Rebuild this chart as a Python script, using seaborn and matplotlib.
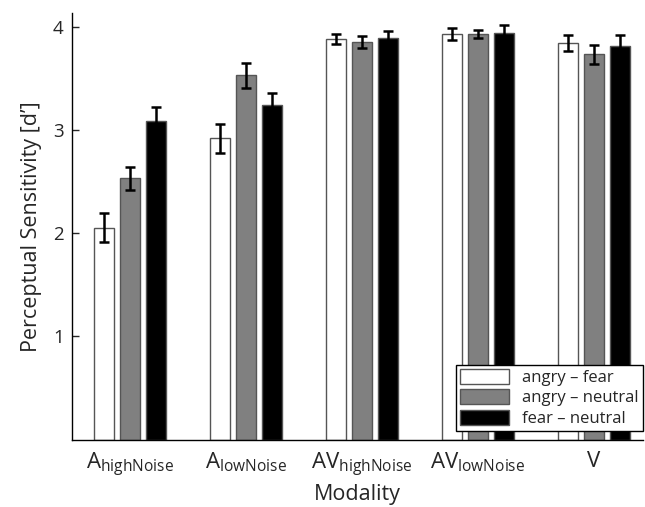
import matplotlib
matplotlib.use("Agg")
import matplotlib.pyplot as plt
import seaborn as sns
import pandas as pd
import numpy as np

modalities = ["A$_{\\mathregular{highNoise}}$", "A$_{\\mathregular{lowNoise}}$",
              "AV$_{\\mathregular{highNoise}}$", "AV$_{\\mathregular{lowNoise}}$", "V"]
contrasts = ["angry \u2013 fear", "angry \u2013 neutral", "fear \u2013 neutral"]
angry_fear = [2.05, 2.92, 3.88, 3.93, 3.84]
angry_neutral = [2.53, 3.53, 3.85, 3.93, 3.73]
fear_neutral = [3.09, 3.24, 3.89, 3.94, 3.81]
err_angry_fear = [0.14, 0.14, 0.05, 0.06, 0.08]
err_angry_neutral = [0.11, 0.12, 0.055, 0.04, 0.09]
err_fear_neutral = [0.13, 0.12, 0.07, 0.08, 0.11]
colors = ["#ffffff", "#808080", "#000000"]

sns.set_theme(style="white")
plt.rcParams['font.family'] = ['Open Sans', 'DejaVu Sans']
plt.rcParams['mathtext.fontset'] = 'custom'
plt.rcParams['mathtext.rm'] = 'Open Sans'

rows = []
for vals, errs, c in [(angry_fear, err_angry_fear, contrasts[0]),
                      (angry_neutral, err_angry_neutral, contrasts[1]),
                      (fear_neutral, err_fear_neutral, contrasts[2])]:
    for m, v, e in zip(modalities, vals, errs):
        rows.append({"Modality": m, "Contrast": c, "d": v, "err": e})
df = pd.DataFrame(rows)

fig = plt.figure(figsize=(6.45, 5.07), dpi=100)
ax = fig.add_axes([0.1116, 0.133, 0.885, 0.841])
sns.barplot(data=df, x="Modality", y="d", hue="Contrast", order=modalities,
            hue_order=contrasts, palette=colors, width=0.672, gap=0.2,
            edgecolor="#555555", linewidth=1.0, errorbar=None, ax=ax, saturation=1)

# error bars at bar centers
for c, cont in zip(ax.containers, contrasts):
    sub = df[df["Contrast"] == cont].set_index("Modality").loc[modalities]
    xs = [p.get_x() + p.get_width() / 2 for p in c.patches]
    ax.errorbar(xs, sub["d"].values, yerr=sub["err"].values, fmt="none",
                ecolor="black", elinewidth=1.8, capsize=3.6, capthick=1.8, zorder=5)

ax.set_xlim(-0.5, 4.42)
ax.set_ylim(0, 4.13)
ax.set_yticks([1, 2, 3, 4])
ax.set_yticklabels(["1", "2", "3", "4"], fontsize=13.5)
ax.tick_params(axis="y", direction="in", length=5, width=1, left=True, pad=6)
ax.tick_params(axis="x", length=0, pad=8)
for lbl in ax.get_xticklabels():
    lbl.set_fontsize(16)
ax.set_xlabel("Modality", fontsize=15.5, labelpad=4)
ax.set_ylabel("Perceptual Sensitivity [d\u2019]", fontsize=15.5, labelpad=8)
for s in ["top", "right"]:
    ax.spines[s].set_visible(False)
for s in ["left", "bottom"]:
    ax.spines[s].set_color("black")
    ax.spines[s].set_linewidth(1)

leg = ax.legend(loc="lower right", bbox_to_anchor=(1.0, 0.02), fontsize=12,
                frameon=True, fancybox=False,
                edgecolor="black", handlelength=2.9, handleheight=1.0,
                borderaxespad=0.0, labelspacing=0.2, handletextpad=0.8,
                borderpad=0.25, title=None)
leg.get_frame().set_linewidth(1)
leg.get_frame().set_alpha(1)

fig.savefig("out.png", dpi=100)
